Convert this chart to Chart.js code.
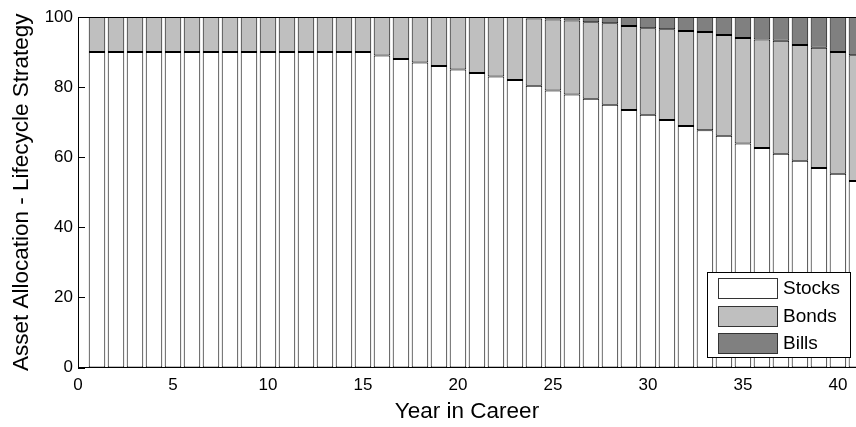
<!DOCTYPE html>
<html>
<head>
<meta charset="utf-8">
<script src="https://cdn.jsdelivr.net/npm/chart.js@4/dist/chart.umd.min.js"></script>
<style>
  html, body { margin: 0; padding: 0; background: #fff; }
  #wrap { width: 856px; height: 427px; }
</style>
</head>
<body>
<div id="wrap"><canvas id="c" width="856" height="427"></canvas></div>
<script>
// years 1..41, allocation in percent
const years = [1,2,3,4,5,6,7,8,9,10,11,12,13,14,15,16,17,18,19,20,21,22,23,24,25,26,27,28,29,30,31,32,33,34,35,36,37,38,39,40,41];
const stocks = [90,90,90,90,90,90,90,90,90,90,90,90,90,90,90,89,88,87,86,85,84,83,82,80.4,79,77.9,76.7,75,73.5,72.1,70.6,68.9,67.7,66.1,63.9,62.6,61,59,56.9,55.3,53.2];
const bonds = [10,10,10,10,10,10,10,10,10,10,10,10,10,10,10,11,12,13,14,15,16,17,18,19.2,20.3,21.1,21.8,23.2,23.9,24.7,25.9,27.1,28,28.8,30.1,31,32.2,33,34.3,34.7,35.9];
const bills = [0,0,0,0,0,0,0,0,0,0,0,0,0,0,0,0,0,0,0,0,0,0,0,0.4,0.7,1,1.5,1.8,2.6,3.2,3.5,4,4.3,5.1,6,6.4,6.8,8,8.8,10,10.9];
const seriesNames = ["Stocks", "Bonds", "Bills"];
const seriesColors = ["#ffffff", "#bfbfbf", "#808080"];
const yTicks = [0, 20, 40, 60, 80, 100];

const FONT = "'Liberation Sans', Arial, sans-serif";

function pts(vals){
  return years.map((y, i) => ({x: y, y: vals[i]}));
}

const datasets = [stocks, bonds, bills].map((vals, i) => ({
  label: seriesNames[i],
  data: pts(vals),
  backgroundColor: seriesColors[i],
  borderColor: "#000",
  borderWidth: 1,
  borderSkipped: false,
  barPercentage: 0.87,
  categoryPercentage: 1
}));

// matlab-like frame: top line, inward y ticks, legend box inside the axes
const framePlugin = {
  id: "frame",
  afterDraw(chart){
    const ctx = chart.ctx;
    const a = chart.chartArea;
    const ys = chart.scales.y;
    ctx.save();
    ctx.strokeStyle = "#000";
    ctx.lineWidth = 1;
    ctx.beginPath();
    ctx.moveTo(a.left, a.top + 0.5);
    ctx.lineTo(a.right, a.top + 0.5);
    yTicks.forEach(v => {
      const py = Math.round(ys.getPixelForValue(v)) + 0.5;
      ctx.moveTo(a.left, py);
      ctx.lineTo(a.left + 7, py);
    });
    ctx.stroke();

    // legend
    const lx = 707.5, ly = 272.5, lw = 143, lh = 85;
    ctx.fillStyle = "#fff";
    ctx.fillRect(lx, ly, lw, lh);
    ctx.strokeRect(lx, ly, lw, lh);
    ctx.font = "19px " + FONT;
    ctx.textBaseline = "middle";
    chart.data.datasets.forEach((ds, i) => {
      const cy = 288 + i * 27.5;
      ctx.fillStyle = ds.backgroundColor;
      ctx.fillRect(718.5, Math.round(cy - 10) + 0.5, 59, 20);
      ctx.strokeStyle = "#333";
      ctx.strokeRect(718.5, Math.round(cy - 10) + 0.5, 59, 20);
      ctx.fillStyle = "#000";
      ctx.fillText(ds.label, 783, cy + 1);
    });
    ctx.restore();
  }
};

new Chart(document.getElementById("c"), {
  type: "bar",
  data: { datasets: datasets },
  plugins: [framePlugin],
  options: {
    responsive: false,
    animation: false,
    devicePixelRatio: 1,
    layout: { padding: { top: 17, right: 0, left: 0, bottom: 0 } },
    plugins: { legend: { display: false }, tooltip: { enabled: false } },
    scales: {
      x: {
        type: "linear",
        stacked: true,
        offset: false,
        min: 0,
        max: 40.95,
        grid: { display: false, drawTicks: false, offset: false },
        border: { display: true, color: "#000", width: 1 },
        ticks: { stepSize: 5, includeBounds: false, color: "#000", padding: 8, font: { family: FONT, size: 17 } },
        title: { display: true, text: "Year in Career", color: "#000", padding: { top: 0, bottom: 2 }, font: { family: FONT, size: 22.5 } },
        afterFit(s){ s.height = 59.5; }
      },
      y: {
        stacked: true,
        min: 0,
        max: 100,
        grid: { display: false, drawTicks: false },
        border: { display: true, color: "#000", width: 1 },
        ticks: { stepSize: 20, color: "#000", padding: 5, font: { family: FONT, size: 17 } },
        title: { display: true, text: "Asset Allocation - Lifecycle Strategy", color: "#000", padding: { top: 8, bottom: 0 }, font: { family: FONT, size: 22.5 } },
        afterFit(s){ s.width = 78; }
      }
    }
  }
});
</script>
</body>
</html>
